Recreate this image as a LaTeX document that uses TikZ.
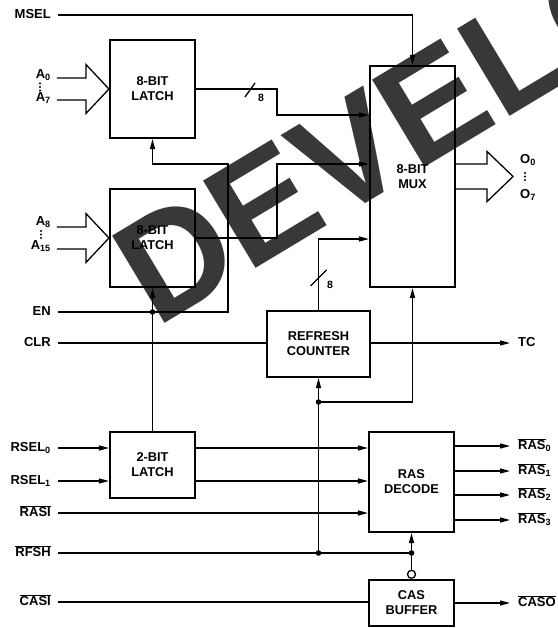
\documentclass[tikz,border=0pt]{standalone}
\usepackage{fontspec}
\setmainfont{Liberation Sans}
\usetikzlibrary{arrows.meta,calc}
\newcommand{\ovl}[1]{$\overline{\mbox{#1}}$}

\begin{document}
\begin{tikzpicture}[x=1pt,y=-1pt,
  box/.style={draw,line width=2.1pt,minimum width=85pt,inner sep=0pt,align=center,
    font=\fontsize{12.8}{15}\selectfont\bfseries},
  pin/.style={anchor=east,inner xsep=7pt,inner ysep=0pt,text height=9.5pt,text depth=3pt,
    font=\fontsize{13}{14}\selectfont\bfseries},
  pout/.style={pin,anchor=west,inner xsep=8pt},
  buswidth/.style={inner sep=0pt,font=\fontsize{10.5}{10.5}\selectfont\bfseries},
  sig/.style={line width=1.3pt},
  arr/.style={sig,-{Triangle[length=10pt,width=5pt]}},
  fat/.style={sig,line join=miter},
  bubble/.style={circle,draw,line width=1.3pt,fill=white,inner sep=0pt,minimum size=8pt},
  watermark/.style={anchor=base west,rotate=31,inner sep=0pt,text=black,text opacity=0.78,
    font=\fontsize{148}{148}\selectfont\bfseries}]
  \useasboundingbox (0,0) rectangle (557,628);

  \node[box,minimum height=98pt] (latchA) at (152.5,89) {8-BIT\\LATCH};
  \node[box,minimum height=98pt] (latchB) at (152.5,238) {8-BIT\\LATCH};
  \node[box,minimum height=221pt] (mux) at (412.5,176.5) {8-BIT\\MUX};
  \node[box,minimum width=103pt,minimum height=66pt] (refcnt) at (318.5,344) {REFRESH\\COUNTER};
  \node[box,minimum height=66pt] (latchC) at (152.5,465) {2-BIT\\LATCH};
  \node[box,minimum height=100pt] (rasdec) at (411.5,482) {RAS\\DECODE};
  \node[box,minimum height=46pt] (casbuf) at (411.5,603) {CAS\\BUFFER};
  \node[bubble,anchor=south] (inv) at (casbuf.north) {};

  \node[pin] (msel) at (58,15) {MSEL};
  \node[pin] (a0) at (58,75) {A\textsubscript{0}};
  \node[pin] (a7) at (58,98) {A\textsubscript{7}};
  \node[pin] (a8) at (58,222) {A\textsubscript{8}};
  \node[pin] (a15) at (58,246) {A\textsubscript{15}};
  \node[pin] (en) at (58,312) {EN};
  \node[pin] (clr) at (58,343) {CLR};
  \node[pin] (rsel0) at (58,448) {RSEL\textsubscript{0}};
  \node[pin] (rsel1) at (58,481) {RSEL\textsubscript{1}};
  \node[pin] (rasi) at (58,513) {\ovl{RASI}};
  \node[pin] (rfsh) at (58,553) {\ovl{RFSH}};
  \node[pin] (casi) at (58,602) {\ovl{CASI}};
  \node[pout] (o0) at (512,160) {O\textsubscript{0}};
  \node[pout] (o7) at (512,195) {O\textsubscript{7}};
  \node[pout] (tc) at (510,343) {TC};
  \node[pout] (ras0) at (510,446) {\ovl{RAS}\textsubscript{0}};
  \node[pout] (ras1) at (510,471) {\ovl{RAS}\textsubscript{1}};
  \node[pout] (ras2) at (510,495) {\ovl{RAS}\textsubscript{2}};
  \node[pout] (ras3) at (510,520) {\ovl{RAS}\textsubscript{3}};
  \node[pout] (caso) at (510,603) {\ovl{CASO}};
  \foreach \k in {83.5,87,90.5} \fill (40,\k) circle[radius=1.2pt];
  \foreach \k in {231,234.5,238} \fill (41,\k) circle[radius=1.2pt];
  \foreach \k in {173,176.5,180} \fill (525,\k) circle[radius=1.2pt];

  \coordinate (jog) at (277,0);
  \coordinate (inA) at (mux.west |- 0,115);
  \coordinate (inB) at (mux.west |- 0,164);
  \coordinate (inR) at (mux.west |- 0,239);
  \coordinate (enjog) at (228,164);
  \coordinate (enB) at (latchB.south |- en.east);
  \coordinate (rf1) at (refcnt.south |- rfsh.east);
  \coordinate (rf2) at (rasdec.south |- rfsh.east);
  \coordinate (rf3) at (refcnt.south |- 0,402);

  \draw[fat,shift={(latchA.west)}] (-52,-11) -- (-23,-11) -- (-23,-24.5) -- (0,0)
    -- (-23,24.5) -- (-23,11) -- (-52,11);
  \draw[fat,shift={(latchB.west)}] (-52,-11) -- (-23,-11) -- (-23,-24.5) -- (0,0)
    -- (-23,24.5) -- (-23,11) -- (-52,11);
  \draw[fat,shift={(mux.east)}] (0,-12.5) -- (31,-12.5) -- (31,-25) -- (57,0)
    -- (31,25) -- (31,12.5) -- (0,12.5);

  \draw[arr] (msel.east) -| (mux.north);
  \draw[arr] (latchA.east) -| (jog |- inA) -- (inA);
  \draw[sig] (245,97) -- (255,83);
  \node[buswidth] (w8a) at (261,98) {8};
  \draw[arr] (latchB.east) -| (jog |- inB) -- (inB);
  \draw[arr] (refcnt.north) |- (inR);
  \draw[sig] ($(refcnt.north)+(-8,-24)$) -- ($(refcnt.north)+(8,-40)$);
  \node[buswidth] (w8r) at (330,285) {8};

  \draw[arr] (en.east) -| (enjog) -| (latchA.south);
  \draw[arr] (enB) -- (latchB.south);
  \draw[sig] (enB) -- (latchC.north);
  \fill (enB) circle[radius=2.8pt];
  \draw[sig] (clr.east) -- (refcnt.west |- clr.east);
  \draw[arr] (refcnt.east |- tc.west) -- (tc.west);

  \draw[arr] (rsel0.east) -- (latchC.west |- rsel0.east);
  \draw[arr] (rsel1.east) -- (latchC.west |- rsel1.east);
  \draw[arr] (latchC.east |- rsel0.east) -- (rasdec.west |- rsel0.east);
  \draw[arr] (latchC.east |- rsel1.east) -- (rasdec.west |- rsel1.east);
  \draw[arr] (rasi.east) -- (rasdec.west |- rasi.east);
  \foreach \k in {0,...,3}
    \draw[arr] (rasdec.east |- ras\k.west) -- (ras\k.west);

  \draw[sig] (rfsh.east) -- (rf2);
  \draw[arr] (rf1) -- (refcnt.south);
  \draw[arr] (rf3) -| (mux.south);
  \draw[arr] (rf2) -- (rasdec.south);
  \draw[sig] (rf2) -- (inv.north);
  \fill (rf1) circle[radius=2.8pt];
  \fill (rf2) circle[radius=2.8pt];
  \fill (rf3) circle[radius=2.8pt];
  \draw[sig] (casi.east) -- (casbuf.west |- casi.east);
  \draw[arr] (casbuf.east |- caso.west) -- (caso.west);

  \begin{scope}
    \clip (0,0) rectangle (557,628);
    \node[watermark] (stamp) at (156,329) {DEVELOP};
  \end{scope}
\end{tikzpicture}
\end{document}
